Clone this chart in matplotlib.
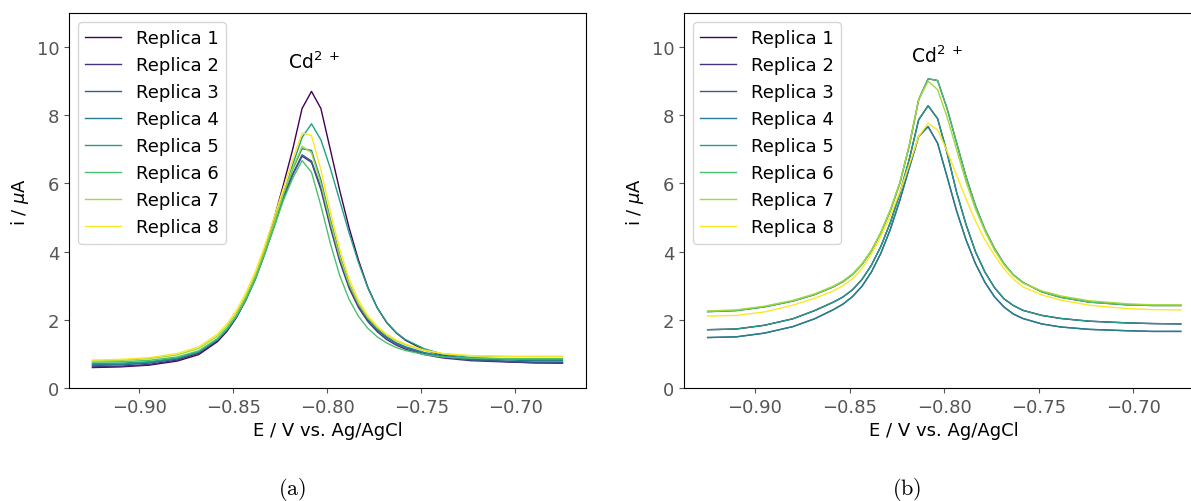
import numpy as np
import matplotlib.pyplot as plt

# potential sweep (V vs. Ag/AgCl), shared by all replicas
potential = [-0.925, -0.91, -0.895, -0.88, -0.8685, -0.8585, -0.8535, -0.8485,
             -0.8435, -0.8385, -0.8335, -0.8285, -0.8235, -0.8185, -0.8135, -0.8085,
             -0.8035, -0.7985, -0.7935, -0.7885, -0.7835, -0.7785, -0.7735, -0.7685,
             -0.7635, -0.7585, -0.7485, -0.7385, -0.7235, -0.7035, -0.69, -0.675]

labels = ['Replica 1', 'Replica 2', 'Replica 3', 'Replica 4',
          'Replica 5', 'Replica 6', 'Replica 7', 'Replica 8']

# panel (a), current in uA
a_rep1 = [0.60, 0.62, 0.67, 0.79, 0.98, 1.36, 1.66, 2.06, 2.58, 3.22, 4.02, 4.95, 5.95, 7.0, 8.2, 8.7,
          8.2, 7.0, 5.8, 4.7, 3.75, 2.95, 2.35, 1.92, 1.62, 1.40, 1.12, 0.96, 0.84, 0.77, 0.74, 0.73]
a_rep2 = [0.62, 0.64, 0.69, 0.82, 1.02, 1.39, 1.69, 2.07, 2.57, 3.18, 3.92, 4.72, 5.55, 6.25, 6.80, 6.62,
          5.82, 4.72, 3.72, 2.93, 2.36, 1.95, 1.65, 1.42, 1.26, 1.14, 0.98, 0.88, 0.80, 0.76, 0.74, 0.74]
a_rep3 = [0.66, 0.68, 0.73, 0.85, 1.05, 1.42, 1.72, 2.10, 2.60, 3.20, 3.95, 4.75, 5.58, 6.28, 6.84, 6.66,
          5.88, 4.80, 3.80, 3.00, 2.42, 2.00, 1.70, 1.47, 1.30, 1.18, 1.01, 0.91, 0.83, 0.78, 0.76, 0.76]
a_rep4 = [0.68, 0.70, 0.75, 0.87, 1.06, 1.43, 1.73, 2.11, 2.62, 3.23, 3.99, 4.82, 5.68, 6.42, 7.02, 6.97,
          6.10, 4.95, 3.90, 3.06, 2.46, 2.03, 1.73, 1.50, 1.33, 1.21, 1.04, 0.94, 0.86, 0.82, 0.80, 0.80]
a_rep5 = [0.72, 0.73, 0.77, 0.88, 1.06, 1.42, 1.71, 2.08, 2.57, 3.17, 3.92, 4.75, 5.65, 6.55, 7.35, 7.75,
          7.28, 6.45, 5.50, 4.55, 3.68, 2.93, 2.35, 1.93, 1.63, 1.42, 1.15, 0.99, 0.89, 0.85, 0.84, 0.84]
a_rep6 = [0.76, 0.77, 0.81, 0.91, 1.09, 1.45, 1.74, 2.11, 2.60, 3.20, 3.93, 4.70, 5.50, 6.15, 6.67, 6.33,
          5.35, 4.25, 3.30, 2.60, 2.10, 1.75, 1.50, 1.32, 1.19, 1.10, 0.98, 0.91, 0.87, 0.86, 0.86, 0.86]
a_rep7 = [0.80, 0.81, 0.86, 0.97, 1.16, 1.52, 1.81, 2.19, 2.69, 3.30, 4.04, 4.85, 5.70, 6.45, 7.09, 6.90,
          6.00, 4.88, 3.86, 3.05, 2.47, 2.06, 1.77, 1.55, 1.39, 1.27, 1.10, 1.00, 0.94, 0.92, 0.92, 0.92]
a_rep8 = [0.82, 0.84, 0.89, 1.01, 1.21, 1.58, 1.88, 2.27, 2.78, 3.40, 4.15, 4.98, 5.85, 6.70, 7.48, 7.41,
          6.40, 5.18, 4.08, 3.20, 2.57, 2.12, 1.81, 1.58, 1.41, 1.29, 1.11, 1.01, 0.95, 0.93, 0.93, 0.93]

# panel (b), current in uA
b_rep4 = [1.48, 1.50, 1.61, 1.80, 2.03, 2.30, 2.46, 2.68, 2.98, 3.40, 3.95, 4.65, 5.50, 6.45, 7.38, 7.67,
          7.18, 6.20, 5.20, 4.35, 3.65, 3.10, 2.68, 2.38, 2.17, 2.04, 1.88, 1.79, 1.72, 1.68, 1.66, 1.66]
b_rep5 = [1.71, 1.73, 1.84, 2.03, 2.27, 2.52, 2.67, 2.88, 3.18, 3.60, 4.15, 4.85, 5.70, 6.70, 7.87, 8.28,
          7.90, 6.90, 5.75, 4.80, 4.00, 3.40, 2.95, 2.62, 2.42, 2.28, 2.13, 2.04, 1.96, 1.91, 1.89, 1.88]
b_rep6 = [2.24, 2.27, 2.38, 2.55, 2.74, 2.97, 3.12, 3.33, 3.62, 4.02, 4.55, 5.20, 6.00, 7.10, 8.46, 9.07,
          9.02, 8.20, 7.20, 6.20, 5.35, 4.65, 4.10, 3.65, 3.32, 3.10, 2.82, 2.66, 2.52, 2.44, 2.42, 2.42]
b_rep7 = [2.26, 2.29, 2.40, 2.57, 2.76, 2.99, 3.14, 3.35, 3.64, 4.04, 4.57, 5.22, 6.02, 7.12, 8.46, 9.00,
          8.75, 7.95, 7.00, 6.05, 5.25, 4.60, 4.05, 3.62, 3.30, 3.08, 2.85, 2.70, 2.56, 2.47, 2.44, 2.44]
b_rep8 = [2.11, 2.13, 2.23, 2.43, 2.63, 2.85, 3.00, 3.20, 3.50, 3.92, 4.45, 5.05, 5.75, 6.55, 7.38, 7.77,
          7.57, 6.95, 6.25, 5.55, 4.90, 4.35, 3.90, 3.50, 3.20, 2.97, 2.73, 2.58, 2.43, 2.33, 2.30, 2.29]
# replicas 1-3 lie under later ones in (b)
b_rep1 = b_rep5
b_rep2 = b_rep6
b_rep3 = b_rep4

panel_a = [a_rep1, a_rep2, a_rep3, a_rep4, a_rep5, a_rep6, a_rep7, a_rep8]
panel_b = [b_rep1, b_rep2, b_rep3, b_rep4, b_rep5, b_rep6, b_rep7, b_rep8]

colors = plt.cm.viridis(np.linspace(0, 1, 8))
grey = '#555555'

fig = plt.figure(figsize=(11.91, 5.02), dpi=100)
ax1 = fig.add_axes([0.0579, 0.2251, 0.4341, 0.747])
ax2 = fig.add_axes([0.5743, 0.2251, 0.437, 0.747])

for ax, curves, txt_pos in [(ax1, panel_a, (-0.821, 9.4)), (ax2, panel_b, (-0.8175, 9.55))]:
    for c, y, lab in zip(colors, curves, labels):
        ax.plot(potential, y, color=c, lw=1, label=lab)
    ax.set_ylim(0, 11)
    ax.set_yticks([0, 2, 4, 6, 8, 10])
    ax.set_xticks([-0.9, -0.85, -0.8, -0.75, -0.7])
    ax.set_xlabel('E / V vs. Ag/AgCl', fontsize=13)
    ax.set_ylabel(r'i / $\mu$A', fontsize=13)
    ax.tick_params(labelsize=13, colors=grey)
    ax.legend(loc='upper left', fontsize=13)
    ax.text(txt_pos[0], txt_pos[1], r'Cd$^{2\ +}$', fontsize=13.5)

fig.text(292 / 1191, 0.025, r'$\mathrm{(a)}$', math_fontfamily='cm', fontsize=16,
         ha='center', va='center')
fig.text(907 / 1191, 0.025, r'$\mathrm{(b)}$', math_fontfamily='cm', fontsize=16,
         ha='center', va='center')

fig.savefig('out.png', dpi=100)
